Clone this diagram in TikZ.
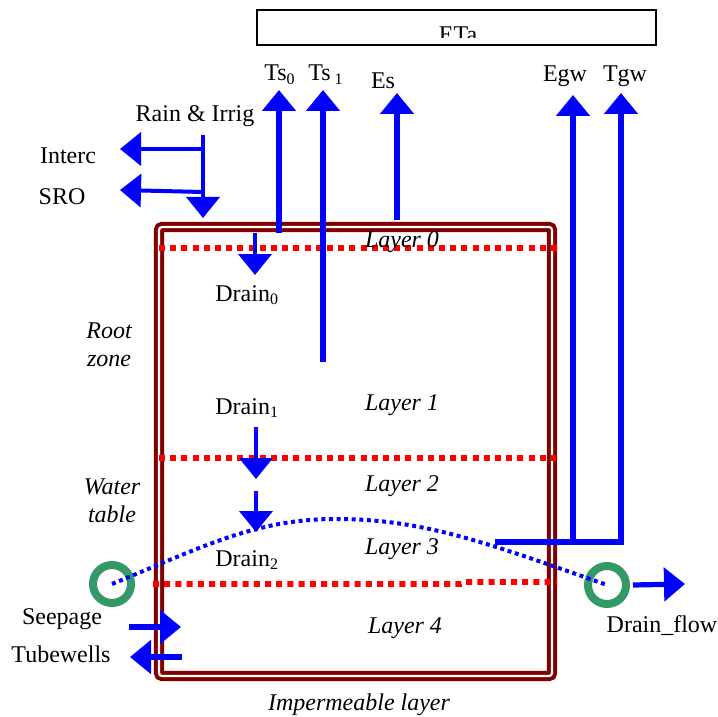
\documentclass[tikz,border=0pt]{standalone}
\usepackage{fontspec}
\setmainfont{Liberation Serif}
\usetikzlibrary{arrows.meta}
\definecolor{wallCol}{RGB}{128, 0, 0}
\definecolor{fluxCol}{RGB}{0, 0, 255}
\definecolor{layerCol}{RGB}{255, 0, 0}
\definecolor{drainCol}{RGB}{51, 153, 102}

\begin{document}
\begin{tikzpicture}[
    x=0.5pt, y=-0.5pt,
    font=\fontsize{12}{14}\selectfont,
    % Water flux arrow - thick blue with a broad triangle head
    fluxArrow/.style={
        -{Triangle[width=16.5pt,length=10.5pt]},
        line width=2.6pt,
        draw=fluxCol
    },
    % Thinner flux arrow (surface / drainage fluxes)
    thinFlux/.style={
        fluxArrow,
        line width=2pt
    },
    % Red boundary between soil layers
    layerLine/.style={
        draw=layerCol,
        line width=2.8pt,
        dash pattern=on 3pt off 2.6pt
    },
    % Blue dotted water table
    tableLine/.style={
        draw=fluxCol,
        line width=2pt,
        dash pattern=on 2pt off 1.8pt
    },
    % Double walled soil column
    soilWall/.style={
        draw=wallCol,
        double=white,
        double distance=1.1pt,
        line width=2pt,
        rounded corners=1.5pt
    },
    % Drain outlet ring
    drainRing/.style={
        circle,
        draw=drainCol,
        line width=4pt,
        minimum size=19pt,
        inner sep=0pt
    },
    fluxTag/.style={anchor=base, inner sep=0pt},
    zoneTag/.style={anchor=base, inner sep=0pt, font=\fontsize{12}{14}\selectfont\itshape}
]
    \useasboundingbox (0,0) rectangle (718,717);

    % ETa box with the clipped caption
    \begin{scope}
        \clip (258,11) rectangle (655,38);
        \node[fluxTag] (ETa) at (458,43) {ETa};
    \end{scope}
    \draw[line width=1pt] (257,10) rectangle (656,45);

    % Soil column
    \draw[soilWall] (159,227) rectangle (552,676);

    % Layer boundaries
    \draw[layerLine] (159,248) -- (557,248);
    \draw[layerLine] (159,458) -- (556,458);
    \draw[layerLine] (153,584) -- (461,584) -- (466,582) -- (557,582);

    % Drain outlets
    \node[drainRing] (leftRing) at (112,584) {};
    \node[drainRing] (rightRing) at (607,585) {};

    % Water table
    \draw[tableLine] (leftRing.center) .. controls (200,548) and (255,519) .. (335,519)
        .. controls (420,519) and (480,540) .. (rightRing.center);

    % Flux labels
    \node[fluxTag] (Ts0) at (280,81) {Ts\textsubscript{0}};
    \node[fluxTag] (Ts1) at (326,81) {Ts\,\textsubscript{1}};
    \node[fluxTag] (Es) at (383,89) {Es};
    \node[fluxTag] (Egw) at (565,82) {Egw};
    \node[fluxTag] (Tgw) at (625,82) {Tgw};
    \node[fluxTag] (rain) at (195,122) {Rain \& Irrig};
    \node[fluxTag] (interc) at (68,163) {Interc};
    \node[fluxTag] (sro) at (62,205) {SRO};
    \node[fluxTag, anchor=base west] (drain0) at (215,301) {Drain\textsubscript{0}};
    \node[fluxTag, anchor=base west] (drain1) at (215,414) {Drain\textsubscript{1}};
    \node[fluxTag, anchor=base west] (drain2) at (215,566) {Drain\textsubscript{2}};
    \node[fluxTag] (seepage) at (62,624) {Seepage};
    \node[fluxTag] (tubewells) at (61,662) {Tubewells};
    \node[fluxTag] (drainFlow) at (662,632) {Drain\_flow};

    % Zone labels
    \node[zoneTag] (layer0) at (402,248) {Layer 0};
    \node[zoneTag] (layer1) at (402,410) {Layer 1};
    \node[zoneTag] (layer2) at (402,491) {Layer 2};
    \node[zoneTag] (layer3) at (402,554) {Layer 3};
    \node[zoneTag] (layer4) at (405,633) {Layer 4};
    \node[zoneTag] (root) at (109,338) {Root};
    \node[zoneTag] (zone) at (109,366) {zone};
    \node[zoneTag] (water) at (112,494) {Water};
    \node[zoneTag] (table) at (112,522) {table};
    \node[zoneTag] (imperm) at (359,710) {Impermeable layer};

    % Flux end points
    \coordinate (ts0Foot) at (279,233);
    \coordinate (ts0Tip) at (279,90);
    \coordinate (ts1Foot) at (323,362);
    \coordinate (ts1Tip) at (323,90);
    \coordinate (esFoot) at (397,220);
    \coordinate (esTip) at (397,93);
    \coordinate (gwStart) at (495,542);
    \coordinate (egwFoot) at (573,542);
    \coordinate (egwTip) at (573,95);
    \coordinate (tgwFoot) at (621,542);
    \coordinate (tgwTip) at (621,93);
    \coordinate (rainTop) at (203,135);
    \coordinate (rainTip) at (203,218);
    \coordinate (intercFoot) at (203,149);
    \coordinate (intercTip) at (120,149);
    \coordinate (sroFoot) at (203,192);
    \coordinate (sroTip) at (120,190);
    \coordinate (d0Top) at (255,233);
    \coordinate (d0Tip) at (255,275);
    \coordinate (d1Top) at (256,427);
    \coordinate (d1Tip) at (256,479);
    \coordinate (d2Top) at (256,491);
    \coordinate (d2Tip) at (256,532);
    \coordinate (seepFoot) at (129,627);
    \coordinate (seepTip) at (181,627);
    \coordinate (tubeFoot) at (182,657);
    \coordinate (tubeTip) at (130,657);
    \coordinate (flowTip) at (685,584);

    % Evaporation and transpiration
    \draw[fluxArrow] (ts0Foot) -- (ts0Tip);
    \draw[fluxArrow] (ts1Foot) -- (ts1Tip);
    \draw[fluxArrow] (esFoot) -- (esTip);
    \draw[fluxArrow] (egwFoot) -- (egwTip);
    \draw[fluxArrow] (gwStart) -- (tgwFoot) -- (tgwTip);

    % Surface fluxes
    \draw[thinFlux] (rainTop) -- (rainTip);
    \draw[thinFlux] (intercFoot) -- (intercTip);
    \draw[thinFlux] (sroFoot) -- (sroTip);

    % Drainage between layers
    \draw[thinFlux] (d0Top) -- (d0Tip);
    \draw[thinFlux] (d1Top) -- (d1Tip);
    \draw[thinFlux] (d2Top) -- (d2Tip);

    % Lateral fluxes
    \draw[fluxArrow] (seepFoot) -- (seepTip);
    \draw[fluxArrow] (tubeFoot) -- (tubeTip);
    \draw[fluxArrow] ([xshift=13pt]rightRing.center) -- (flowTip);

\end{tikzpicture}
\end{document}
